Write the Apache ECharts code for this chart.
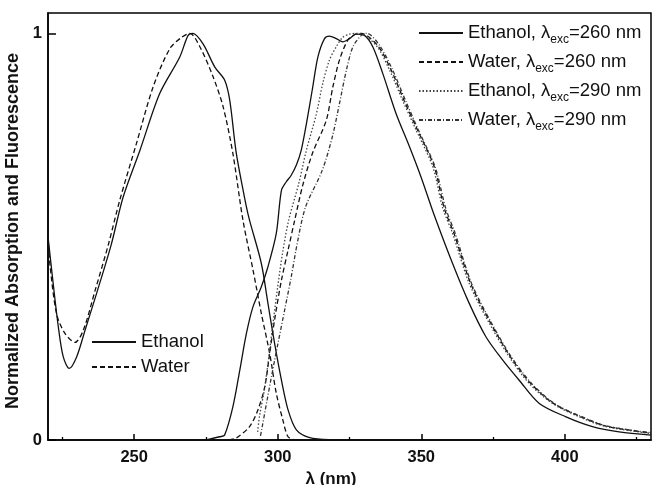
<!DOCTYPE html>
<html>
<head>
<meta charset="utf-8">
<script src="https://cdn.jsdelivr.net/npm/echarts@6/dist/echarts.min.js"></script>
<style>
  html, body { margin: 0; padding: 0; background: #fff; }
  #chart { width: 652px; height: 485px; }
</style>
</head>
<body>
<div id="chart"></div>
<script>
// wavelength (nm), normalized value
var absEthanol = [[220, 0.50], [221.8, 0.385], [223.6, 0.278], [225.3, 0.205], [227.4, 0.176], [230, 0.205],
  [232.9, 0.27], [236.9, 0.36], [242, 0.48], [246.2, 0.598], [252, 0.712], [258.9, 0.852], [265.9, 0.942],
  [268.8, 0.995], [270.5, 1.0], [274, 0.974], [278.1, 0.917], [281.5, 0.885], [283.3, 0.835], [285.6, 0.704],
  [289.1, 0.573], [290.2, 0.54], [294.3, 0.434], [296.6, 0.336], [298.9, 0.238], [301.3, 0.147], [303.6, 0.074],
  [306.5, 0.025], [311.1, 0.006], [318, 0.001]];
var absWater = [[220, 0.50], [220.7, 0.43], [223, 0.31], [225.9, 0.262], [229.4, 0.24], [232.3, 0.27],
  [236.5, 0.37], [241, 0.48], [245, 0.59], [250.8, 0.729], [256.6, 0.868], [262.4, 0.962], [266.5, 0.99],
  [269.4, 1.0], [272.9, 0.967], [277.5, 0.893], [281, 0.819], [284.4, 0.704], [287.9, 0.54], [291.4, 0.418],
  [294.3, 0.311], [297.2, 0.213], [299.5, 0.115], [301.8, 0.049], [303.6, 0.008], [306, 0.0]];

var flEthanol260 = [[275, 0.0], [279.8, 0.008], [281.5, 0.012], [284.4, 0.082], [286.8, 0.172], [289.1, 0.262],
  [291.4, 0.328], [294.3, 0.377], [296.6, 0.426], [299.5, 0.508], [301.3, 0.614], [303, 0.635], [304.7, 0.651],
  [306.5, 0.676], [308.2, 0.713], [310, 0.778], [312.2, 0.868], [314, 0.942], [316.3, 0.987], [318, 0.993],
  [320.4, 0.987], [322.7, 0.979], [325, 0.987], [327.3, 0.998], [330.2, 0.995], [333.1, 0.967], [336.6, 0.901],
  [341.2, 0.803], [345.9, 0.721], [350, 0.645], [354.3, 0.557], [360.9, 0.434], [366.7, 0.336], [372.5, 0.254],
  [378.3, 0.197], [384.1, 0.147], [391.1, 0.09], [400.4, 0.057], [409.6, 0.033], [418.9, 0.02], [430, 0.012]];
var flWater260 = [[283, 0.0], [285.6, 0.005], [290.2, 0.033], [293.1, 0.074], [295.5, 0.131], [297.2, 0.213],
  [298.9, 0.295], [301.3, 0.393], [303.6, 0.467], [305.9, 0.54], [308.7, 0.626], [312.1, 0.705], [316.9, 0.786],
  [319.2, 0.868], [321.5, 0.934], [324.4, 0.983], [327.1, 0.998], [329, 1.0], [334.8, 0.97], [339.5, 0.91],
  [344, 0.835], [348.7, 0.762], [354.5, 0.672], [358, 0.57], [361.4, 0.508], [367.2, 0.385], [374.2, 0.287],
  [381, 0.205], [388, 0.14], [396, 0.09], [405.3, 0.058], [414.5, 0.034], [430, 0.017]];
var flEthanol290 = [[293, 0.02], [293.7, 0.06], [295.5, 0.13], [298.2, 0.278], [300, 0.377], [301.7, 0.46],
  [303.8, 0.54], [307.3, 0.63], [310, 0.713], [313.4, 0.80], [315.7, 0.877], [318, 0.934], [320.4, 0.967],
  [322.6, 0.99], [325, 0.998], [328, 1.0], [334.3, 0.97], [339, 0.909], [343.5, 0.835], [348.2, 0.762],
  [354, 0.672], [357.5, 0.57], [360.9, 0.508], [366.7, 0.385], [373.7, 0.287], [380.6, 0.205], [387.6, 0.139],
  [395.7, 0.09], [405, 0.057], [414.3, 0.033], [430, 0.016]];
var flWater290 = [[294, 0.01], [294.4, 0.025], [297.8, 0.155], [300.1, 0.238], [302.4, 0.319], [304.7, 0.401],
  [307, 0.491], [309.7, 0.573], [315.5, 0.663], [319, 0.745], [321.5, 0.827], [323.9, 0.909], [326.2, 0.967],
  [329.1, 0.995], [331, 1.0], [335.5, 0.97], [340, 0.91], [344.5, 0.835], [349, 0.762], [354.8, 0.672],
  [358.5, 0.57], [361.8, 0.508], [367.5, 0.385], [374.5, 0.287], [381.3, 0.205], [388.3, 0.14], [396.3, 0.09],
  [405.6, 0.058], [414.8, 0.034], [430, 0.018]];

var xTicks = [250, 300, 350, 400];
var xMinorTicks = [225, 275, 325, 375, 425];
var yTicks = [0, 1];

var absNames = ['Ethanol', 'Water'];
var flNames = ['Ethanol 260', 'Water 260', 'Ethanol 290', 'Water 290'];
var flLabels = ['Ethanol, λ{s|exc}=260 nm', 'Water, λ{s|exc}=260 nm', 'Ethanol, λ{s|exc}=290 nm', 'Water, λ{s|exc}=290 nm'];

var font = 'Liberation Sans, Arial, Helvetica, sans-serif';

function line(name, data, type, color) {
  return {
    name: name,
    type: 'line',
    data: data,
    symbol: 'none',
    smooth: 0.3,
    silent: true,
    animation: false,
    lineStyle: { color: color || '#111', width: 1.3, type: type },
    itemStyle: { color: color || '#111' }
  };
}

var myChart = echarts.init(document.getElementById('chart'));

var option = {
  backgroundColor: '#fff',
  animation: false,
  grid: {
    left: 48, right: 1, top: 13, bottom: 45,
    outerBoundsMode: 'none',
    show: true, borderColor: '#000', borderWidth: 1.5
  },
  legend: [{
    data: flNames,
    orient: 'vertical',
    left: 413, top: 18,
    itemWidth: 44, itemHeight: 14, itemGap: 6.5,
    itemStyle: { opacity: 0 },
    formatter: function (name) { return flLabels[flNames.indexOf(name)]; },
    textStyle: {
      fontFamily: font, fontSize: 18.5, color: '#111', lineHeight: 20,
      rich: { s: { fontFamily: font, fontSize: 12, color: '#111', padding: [13, 0, 0, 0] } }
    }
  }, {
    data: absNames,
    orient: 'vertical',
    left: 86, top: 327,
    itemWidth: 44, itemHeight: 14, itemGap: 5,
    itemStyle: { opacity: 0 },
    textStyle: { fontFamily: font, fontSize: 18.5, color: '#111', lineHeight: 20 }
  }],
  xAxis: [{
    type: 'value',
    min: 220, max: 430,
    name: 'λ (nm)',
    nameLocation: 'middle',
    nameGap: 29,
    nameTextStyle: { fontFamily: font, fontSize: 17, fontWeight: 'bold', color: '#111', padding: [0, 37, 0, 0] },
    axisLine: { onZero: false, lineStyle: { color: '#000', width: 1.5 } },
    axisTick: { inside: true, length: 6, customValues: xTicks, lineStyle: { color: '#000', width: 1.5 } },
    axisLabel: { customValues: xTicks, margin: 9, fontFamily: font, fontSize: 16.5, fontWeight: 'bold', color: '#111' },
    splitLine: { show: false }
  }, {
    type: 'value',
    min: 220, max: 430,
    position: 'bottom',
    axisLine: { show: false },
    axisTick: { inside: true, length: 3, customValues: xMinorTicks, lineStyle: { color: '#000', width: 1.3 } },
    axisLabel: { show: false },
    splitLine: { show: false }
  }],
  yAxis: {
    type: 'value',
    min: 0, max: 1.05,
    name: 'Normalized Absorption and Fluorescence',
    nameLocation: 'middle',
    nameGap: 20,
    nameTextStyle: { fontFamily: font, fontSize: 18, fontWeight: 'bold', color: '#111', padding: [0, 9, 0, 0] },
    axisLine: { lineStyle: { color: '#000', width: 1.5 } },
    axisTick: { inside: true, length: 8, customValues: yTicks, lineStyle: { color: '#000', width: 1.5 } },
    axisLabel: { customValues: yTicks, margin: 6, fontFamily: font, fontSize: 16.5, fontWeight: 'bold', color: '#111' },
    splitLine: { show: false }
  },
  series: [
    line('Ethanol', absEthanol, 'solid'),
    line('Water', absWater, [5, 3]),
    line('Ethanol 260', flEthanol260, 'solid'),
    line('Water 260', flWater260, [5, 3]),
    line('Ethanol 290', flEthanol290, [1.5, 2], '#444'),
    line('Water 290', flWater290, [4, 2, 1, 2], '#333')
  ]
};

myChart.setOption(option);
</script>
</body>
</html>
